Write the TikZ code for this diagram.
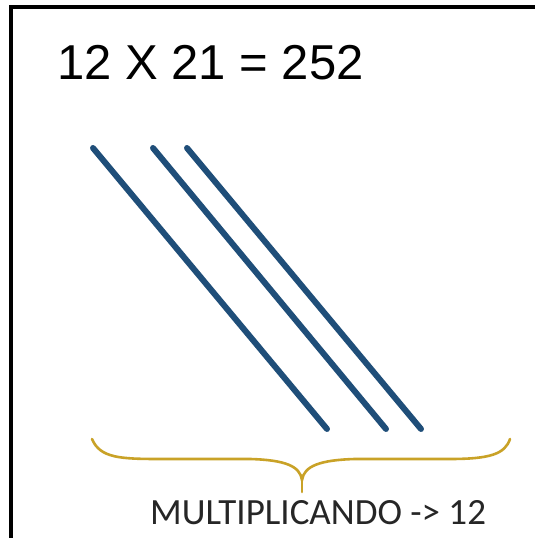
\documentclass[tikz,border=0pt]{standalone}
\usepackage{fontspec}
\setmainfont{Liberation Sans}
\newfontfamily\calib{Carlito}
\definecolor{lineblue}{HTML}{1F4E79}
\definecolor{bracegold}{HTML}{C9A227}
\begin{document}
\begin{tikzpicture}[x=1pt,y=1pt,
  diag/.style={draw=lineblue,line width=6pt,line cap=round},
  bracestyle/.style={draw=bracegold,line width=2.6pt,line cap=round},
  frame/.style={draw=black,line width=4pt}]
\useasboundingbox (0,0) rectangle (535,538);
\fill[white] (0,0) rectangle (535,538);
% frame (top and left only)
\draw[frame] (11,0) -- (11,531) -- (535,531);
% title
\node[anchor=base west,inner sep=0pt,font=\fontsize{49}{55}\selectfont] (title) at (57,458) {12 X 21 = 252};
% diagonal lines
\coordinate (a1) at (93,390); \coordinate (b1) at (327,109);
\coordinate (a2) at (153,390); \coordinate (b2) at (386,109);
\coordinate (a3) at (187,390); \coordinate (b3) at (421,109);
\draw[diag] (a1) -- (b1);
\draw[diag] (a2) -- (b2);
\draw[diag] (a3) -- (b3);
% brace
\coordinate (bl) at (92,99);
\coordinate (bm) at (302,58);
\coordinate (bt) at (302,46);
\coordinate (br) at (510,99);
\draw[bracestyle] (bl) .. controls (100,80) and (120,79) .. (160,79) -- (250,79)
  .. controls (285,78) and (300,72) .. (bm)
  .. controls (304,72) and (320,78) .. (355,79) -- (450,79)
  .. controls (490,79) and (505,84) .. (br);
\draw[bracestyle] (bm) -- (bt);
% label
\node[anchor=base west,inner sep=0pt,font=\calib\fontsize{37}{42}\selectfont,text=black!85] (label) at (150,13) {MULTIPLICANDO -> 12};
\end{tikzpicture}
\end{document}
